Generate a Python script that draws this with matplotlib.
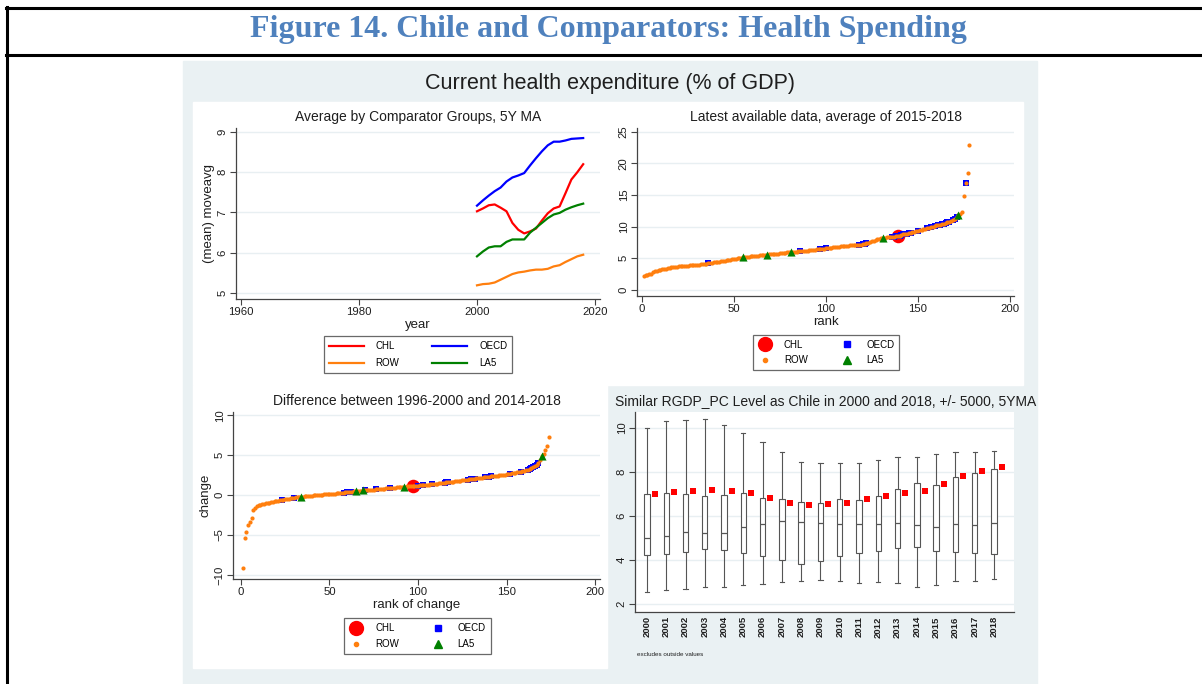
import numpy as np
import matplotlib
matplotlib.use('Agg')
import matplotlib.pyplot as plt
from matplotlib.patches import Rectangle
from matplotlib.lines import Line2D

plt.rcParams['font.family'] = ['Liberation Sans', 'DejaVu Sans']

W, H = 1202, 684

# panel 1: 5y moving averages by group
years = list(range(2000, 2019))
chl_ma = [7.03, 7.10, 7.18, 7.20, 7.12, 7.03, 6.74, 6.57, 6.48, 6.53, 6.60, 6.80, 6.98, 7.10, 7.15, 7.48, 7.82, 8.00, 8.20]
oecd_ma = [7.17, 7.30, 7.42, 7.53, 7.62, 7.77, 7.87, 7.92, 7.98, 8.17, 8.35, 8.52, 8.67, 8.76, 8.76, 8.79, 8.83, 8.84, 8.85]
row_ma = [5.19, 5.22, 5.23, 5.26, 5.33, 5.40, 5.47, 5.51, 5.53, 5.56, 5.58, 5.58, 5.60, 5.66, 5.69, 5.77, 5.84, 5.91, 5.95]
la5_ma = [5.91, 6.03, 6.13, 6.16, 6.16, 6.27, 6.33, 6.33, 6.33, 6.50, 6.62, 6.74, 6.86, 6.95, 6.99, 7.07, 7.13, 7.18, 7.22]

# panel 2: latest available data (sorted), rank = position
latest_vals = [2.2, 2.3, 2.4, 2.5, 2.6, 2.9, 3.0, 3.05, 3.1, 3.2,
               3.25, 3.3, 3.35, 3.45, 3.55, 3.6, 3.62, 3.65, 3.68, 3.72,
               3.75, 3.78, 3.8, 3.83, 3.86, 3.9, 3.92, 3.95, 3.97, 4.0,
               4.02, 4.05, 4.08, 4.1, 4.15, 4.2, 4.25, 4.3, 4.35, 4.4,
               4.45, 4.5, 4.55, 4.6, 4.65, 4.7, 4.75, 4.8, 4.85, 4.9,
               4.95, 5.0, 5.05, 5.1, 5.2, 5.22, 5.25, 5.28, 5.3, 5.33,
               5.36, 5.4, 5.43, 5.46, 5.5, 5.52, 5.55, 5.6, 5.62, 5.65,
               5.68, 5.7, 5.73, 5.76, 5.8, 5.83, 5.86, 5.9, 5.93, 5.96,
               6.0, 6.03, 6.05, 6.08, 6.1, 6.13, 6.15, 6.18, 6.2, 6.23,
               6.26, 6.3, 6.33, 6.36, 6.4, 6.43, 6.46, 6.5, 6.53, 6.56,
               6.6, 6.64, 6.68, 6.72, 6.76, 6.8, 6.84, 6.88, 6.92, 6.96,
               7.0, 7.02, 7.04, 7.06, 7.08, 7.1, 7.12, 7.15, 7.18, 7.22,
               7.3, 7.4, 7.5, 7.6, 7.7, 7.8, 7.9, 8.0, 8.1, 8.15,
               8.2, 8.25, 8.3, 8.33, 8.36, 8.4, 8.45, 8.5, 8.55, 8.6,
               8.7, 8.8, 8.85, 8.9, 9.0, 9.05, 9.1, 9.2, 9.3, 9.4,
               9.45, 9.5, 9.6, 9.7, 9.8, 9.85, 9.9, 10.0, 10.1, 10.2,
               10.25, 10.3, 10.4, 10.5, 10.6, 10.7, 10.8, 10.9, 11.0, 11.2,
               11.5, 11.8, 12.0, 12.4, 14.8, 16.9, 18.5, 22.9]
latest_oecd = [36, 86, 97, 100, 118, 120, 121, 122, 136, 137, 138, 140, 141, 142, 143,
               144, 145, 146, 150, 155, 157, 159, 161, 162, 163, 164, 165, 166, 167,
               169, 170, 171, 176]
latest_la5 = [55, 68, 81, 131, 172]
latest_chl = [139]

# panel 3: change between 1996-2000 and 2014-2018 (sorted)
change_vals = [-9.1, -5.4, -4.6, -3.7, -3.4, -2.9, -1.9, -1.6, -1.4, -1.25,
               -1.2, -1.15, -1.1, -1.05, -1.0, -0.95, -0.9, -0.85, -0.8, -0.75,
               -0.7, -0.66, -0.62, -0.58, -0.54, -0.5, -0.46, -0.42, -0.38, -0.34,
               -0.3, -0.27, -0.24, -0.21, -0.18, -0.15, -0.12, -0.1, -0.08, -0.06,
               -0.04, -0.02, 0.0, 0.02, 0.04, 0.06, 0.08, 0.1, 0.12, 0.14,
               0.16, 0.18, 0.2, 0.22, 0.24, 0.26, 0.28, 0.3, 0.33, 0.36,
               0.39, 0.42, 0.45, 0.48, 0.5, 0.52, 0.54, 0.56, 0.58, 0.6,
               0.62, 0.64, 0.66, 0.68, 0.7, 0.72, 0.74, 0.76, 0.78, 0.8,
               0.82, 0.84, 0.86, 0.88, 0.9, 0.92, 0.94, 0.96, 0.98, 1.0,
               1.02, 1.04, 1.06, 1.08, 1.1, 1.12, 1.14, 1.16, 1.18, 1.2,
               1.22, 1.24, 1.26, 1.28, 1.3, 1.32, 1.34, 1.36, 1.38, 1.4,
               1.43, 1.46, 1.49, 1.52, 1.55, 1.58, 1.61, 1.64, 1.67, 1.7,
               1.73, 1.76, 1.79, 1.82, 1.85, 1.88, 1.91, 1.94, 1.97, 2.0,
               2.03, 2.06, 2.09, 2.12, 2.15, 2.18, 2.21, 2.24, 2.27, 2.3,
               2.33, 2.36, 2.39, 2.42, 2.45, 2.48, 2.51, 2.54, 2.57, 2.6,
               2.64, 2.68, 2.72, 2.76, 2.8, 2.84, 2.88, 2.92, 2.96, 3.0,
               3.1, 3.2, 3.3, 3.4, 3.5, 3.65, 3.8, 4.0, 4.4, 4.9,
               5.1, 5.6, 6.2, 7.3]
change_oecd = [23, 30, 58, 60, 62, 70, 76, 84, 100, 103, 108, 115, 116, 117, 128, 130,
               131, 132, 138, 139, 140, 141, 152, 158, 162, 163, 164, 165, 166, 167, 168]
change_la5 = [34, 65, 69, 92, 170]
change_chl = [97]

# panel 4: box plots by year + Chile
box_lo = [2.53, 2.64, 2.68, 2.74, 2.77, 2.83, 2.91, 2.99, 3.02, 3.09, 3.05, 2.92, 2.99, 2.92, 2.76, 2.87, 3.02, 3.02, 3.11]
box_q1 = [4.20, 4.25, 4.37, 4.50, 4.46, 4.32, 4.17, 3.97, 3.79, 3.94, 4.16, 4.29, 4.40, 4.54, 4.60, 4.41, 4.35, 4.32, 4.26]
box_med = [5.00, 5.10, 5.25, 5.22, 5.22, 5.51, 5.64, 5.76, 5.70, 5.69, 5.64, 5.61, 5.61, 5.69, 5.60, 5.51, 5.63, 5.60, 5.69]
box_q3 = [7.01, 7.04, 7.00, 6.92, 6.95, 7.02, 6.81, 6.75, 6.65, 6.58, 6.75, 6.72, 6.92, 7.24, 7.48, 7.40, 7.78, 7.97, 8.15]
box_hi = [10.00, 10.32, 10.38, 10.41, 10.15, 9.79, 9.38, 8.92, 8.47, 8.39, 8.42, 8.42, 8.53, 8.66, 8.69, 8.80, 8.89, 8.92, 8.95]
chile_box = [7.01, 7.09, 7.15, 7.19, 7.13, 7.04, 6.83, 6.60, 6.48, 6.54, 6.57, 6.75, 6.90, 7.02, 7.15, 7.45, 7.81, 8.03, 8.21]

BG = '#eaf1f3'
GRID = '#e8eff2'
AX = '#444444'
TXT = '#1e1e1e'


def rect(x0, y0, x1, y1):
    return [x0 / W, 1 - y1 / H, (x1 - x0) / W, (y1 - y0) / H]


def fx(x):
    return x / W


def fy(y):
    return 1 - y / H


def style(ax, yticks):
    for s in ['top', 'right']:
        ax.spines[s].set_visible(False)
    for s in ['left', 'bottom']:
        ax.spines[s].set_color(AX)
        ax.spines[s].set_linewidth(0.9)
    ax.tick_params(direction='out', length=4, width=0.8, colors=AX, labelsize=8.2, labelcolor=TXT, pad=2)
    ax.set_yticks(yticks)
    ax.yaxis.grid(True, color=GRID, lw=1.0)
    ax.set_axisbelow(True)
    plt.setp(ax.get_yticklabels(), rotation=90, va='center')


fig = plt.figure(figsize=(W / 100, H / 100), dpi=100)

# backgrounds
fig.add_artist(Rectangle((fx(183), fy(684)), (1037 - 183) / W, (684 - 61) / H, transform=fig.transFigure, color=BG, zorder=0))
fig.add_artist(Rectangle((fx(193), fy(385)), (1023 - 193) / W, (385 - 102) / H, transform=fig.transFigure, color='white', zorder=0))
fig.add_artist(Rectangle((fx(193), fy(668)), (607 - 193) / W, (668 - 385) / H, transform=fig.transFigure, color='white', zorder=0))

# frame lines
fig.add_artist(Line2D([fx(6), 1], [fy(8), fy(8)], color='black', lw=2.2, transform=fig.transFigure))
fig.add_artist(Line2D([fx(6), 1], [fy(55), fy(55)], color='black', lw=2.2, transform=fig.transFigure))
fig.add_artist(Line2D([fx(7), fx(7)], [fy(7), 0], color='black', lw=2.2, transform=fig.transFigure))

fig.text(fx(608), fy(29), 'Figure 14. Chile and Comparators: Health Spending', ha='center', va='center',
         fontsize=23, fontweight='bold', color='#4f81bd', family=['Liberation Serif', 'DejaVu Serif'])
fig.text(fx(610), fy(83), 'Current health expenditure (% of GDP)', ha='center', va='center', fontsize=15.5, color=TXT)

# --- top left: moving averages
ax1 = fig.add_axes(rect(236, 128, 600, 299))
ax1.set_facecolor('white')
ax1.plot(years, chl_ma, color='#ff0000', lw=1.6, label='CHL')
ax1.plot(years, oecd_ma, color='#0000ff', lw=1.6, label='OECD')
ax1.plot(years, row_ma, color='#ff7f0e', lw=1.6, label='ROW')
ax1.plot(years, la5_ma, color='#008000', lw=1.6, label='LA5')
ax1.set_xlim(1959.15, 2020.85)
ax1.set_ylim(4.85, 9.1)
ax1.set_xticks([1960, 1980, 2000, 2020])
style(ax1, [5, 6, 7, 8, 9])
ax1.set_xlabel('year', fontsize=9.5, color=TXT, labelpad=1)
ax1.set_ylabel('(mean) moveavg', fontsize=9.5, color=TXT, labelpad=2)
fig.text(fx(418), fy(117), 'Average by Comparator Groups, 5Y MA', ha='center', va='center', fontsize=10, color=TXT)

h1 = [Line2D([], [], color='#ff0000', lw=1.6), Line2D([], [], color='#ff7f0e', lw=1.6),
      Line2D([], [], color='#0000ff', lw=1.6), Line2D([], [], color='#008000', lw=1.6)]
leg = fig.legend(h1, ['CHL', 'ROW', 'OECD', 'LA5'], ncol=2, loc='center', bbox_to_anchor=(fx(418), fy(354.5)),
                 fontsize=7, handlelength=3.6, columnspacing=3.4, handletextpad=1.2, fancybox=False,
                 edgecolor=AX, borderpad=0.5, labelspacing=0.7)
leg.get_frame().set_linewidth(0.9)


def rank_scatter(ax, vals, oecd, la5, chl):
    ranks = np.arange(1, len(vals) + 1)
    vals = np.array(vals)
    ci = np.array(chl) - 1
    oi = np.array(oecd) - 1
    li = np.array(la5) - 1
    ax.scatter(ranks[ci], vals[ci], s=95, color='#ff0000', zorder=2, lw=0)
    ax.scatter(ranks[oi], vals[oi], s=18, marker='s', color='#0000ff', zorder=3, lw=0)
    ax.scatter(ranks, vals, s=9, color='#ff7f0e', zorder=4, lw=0)
    ax.scatter(ranks[li], vals[li], s=34, marker='^', color='#008000', zorder=5, lw=0)


def scatter_legend(cx, cy):
    hs = [Line2D([], [], ls='', marker='o', ms=10, color='#ff0000'),
          Line2D([], [], ls='', marker='o', ms=3, color='#ff7f0e'),
          Line2D([], [], ls='', marker='s', ms=4, color='#0000ff'),
          Line2D([], [], ls='', marker='^', ms=6, color='#008000')]
    lg = fig.legend(hs, ['CHL', 'ROW', 'OECD', 'LA5'], ncol=2, loc='center', bbox_to_anchor=(fx(cx), fy(cy)),
                    fontsize=7, handlelength=1.4, columnspacing=3.3, handletextpad=1.3, fancybox=False,
                    edgecolor=AX, borderpad=0.5, labelspacing=0.6)
    lg.get_frame().set_linewidth(0.9)


# --- top right: latest data
ax2 = fig.add_axes(rect(637, 128, 1014, 296))
rank_scatter(ax2, latest_vals, latest_oecd, latest_la5, latest_chl)
ax2.set_xlim(-2.7, 202.2)
ax2.set_ylim(-0.95, 25.6)
ax2.set_xticks([0, 50, 100, 150, 200])
style(ax2, [0, 5, 10, 15, 20, 25])
ax2.set_xlabel('rank', fontsize=9.5, color=TXT, labelpad=1)
fig.text(fx(826), fy(117), 'Latest available data, average of 2015-2018', ha='center', va='center', fontsize=10, color=TXT)
scatter_legend(826, 352.5)

# --- bottom left: change
ax3 = fig.add_axes(rect(233, 412, 600, 579))
rank_scatter(ax3, change_vals, change_oecd, change_la5, change_chl)
ax3.set_xlim(-4.5, 202.8)
ax3.set_ylim(-10.5, 10.4)
ax3.set_xticks([0, 50, 100, 150, 200])
style(ax3, [-10, -5, 0, 5, 10])
ax3.set_xlabel('rank of change', fontsize=9.5, color=TXT, labelpad=1)
ax3.set_ylabel('change', fontsize=9.5, color=TXT, labelpad=2)
fig.text(fx(417), fy(401), 'Difference between 1996-2000 and 2014-2018', ha='center', va='center', fontsize=10, color=TXT)
scatter_legend(417.5, 636)

# --- bottom right: box plots
ax4 = fig.add_axes(rect(635, 412, 1014, 612))
pos = np.arange(len(years))
stats = [dict(med=m, q1=a, q3=b, whislo=lo, whishi=hi)
         for lo, a, m, b, hi in zip(box_lo, box_q1, box_med, box_q3, box_hi)]
ax4.bxp(stats, positions=pos, widths=0.28, showfliers=False, patch_artist=True,
        boxprops=dict(facecolor='white', edgecolor='#555555', lw=0.8),
        whiskerprops=dict(color='#555555', lw=0.8), capprops=dict(color='#555555', lw=0.8),
        medianprops=dict(color='#555555', lw=0.9), capwidths=0.22)
ax4.scatter(pos + 0.4, chile_box, marker='s', s=24, color='#ff0000', zorder=5, lw=0)
ax4.set_xlim(-0.62, 19.04)
ax4.set_ylim(1.62, 10.73)
style(ax4, [2, 4, 6, 8, 10])
ax4.set_xticks(pos, [str(y) for y in years], rotation=90, fontsize=6.8, fontweight='bold')
ax4.tick_params(axis='x', length=0, pad=3)
fig.text(fx(826), fy(401), 'Similar RGDP_PC Level as Chile in 2000 and 2018, +/- 5000, 5YMA', ha='center', va='center',
         fontsize=10, color=TXT)
fig.text(fx(637), fy(654), 'excludes outside values', ha='left', va='center', fontsize=4.5, color=TXT)

fig.savefig('out.png', dpi=100)
